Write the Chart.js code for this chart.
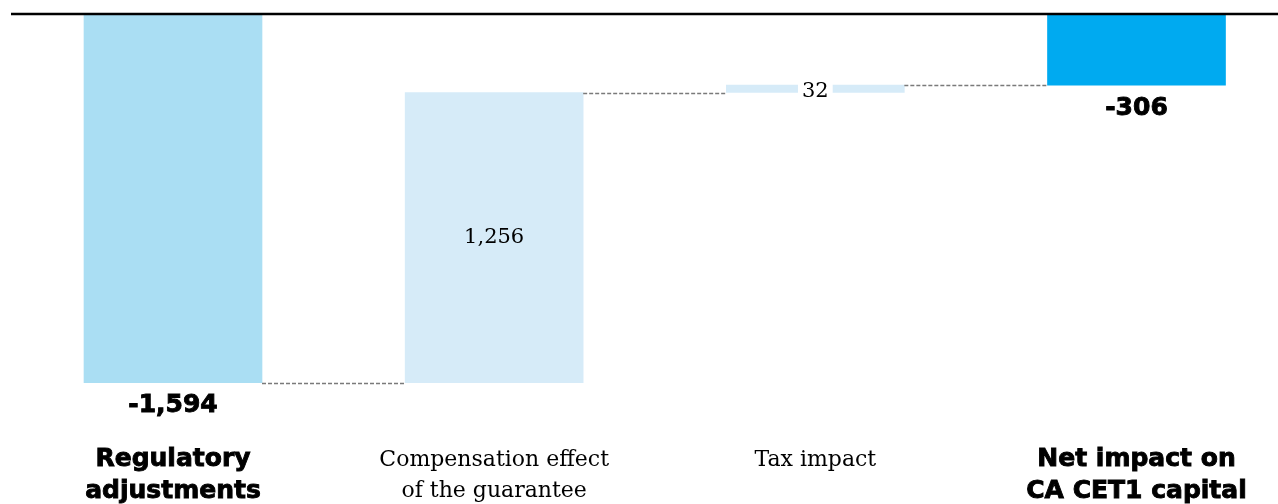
<!DOCTYPE html>
<html>
<head>
<meta charset="utf-8">
<script src="https://cdn.jsdelivr.net/npm/chart.js@4"></script>
<style>
  html, body { margin: 0; padding: 0; background: #fff; }
  canvas { display: block; }
</style>
</head>
<body>
<canvas id="grafico" width="1278" height="504"></canvas>
<script>
// Dados do gráfico
const categorias = [
  ['Regulatory', 'adjustments'],
  ['Compensation effect', 'of the guarantee'],
  ['Tax impact'],
  ['Net impact on', 'CA CET1 capital']
];
const variacoes = [-1594, 1256, 32];
const impactoLiquido = -306;
const rotulosValor = ['-1,594', '1,256', '32', '-306'];
const tipos = ['total', 'delta', 'delta', 'total'];
const cores = ['#aadef3', '#d6ebf8', '#d6ebf8', '#00aaf0'];

// Monta as barras flutuantes a partir do acumulado
const faixas = [];
let acumulado = 0;
variacoes.forEach((v, i) => {
  if (i === 0) {
    faixas.push([0, v]);
  } else {
    faixas.push([acumulado, acumulado + v]);
  }
  acumulado += v;
});
faixas.push([0, impactoLiquido]);

const fonteNegrito = 'bold 25px "DejaVu Sans"';
const fonteSerif = '21px "DejaVu Serif"';

// Texto em negrito mais "pesado" (contorno leve)
function textoPesado(ctx, txt, x, y) {
  ctx.fillText(txt, x, y);
  ctx.lineWidth = 0.9;
  ctx.strokeStyle = '#000';
  ctx.strokeText(txt, x, y);
}

// Plugin para linhas, conectores e rótulos
const extras = {
  id: 'extras',
  afterDatasetsDraw(chart) {
    const ctx = chart.ctx;
    const y = chart.scales.y;
    const x = chart.scales.x;
    const barras = chart.getDatasetMeta(0).data;

    ctx.save();

    // linha do zero
    ctx.strokeStyle = '#000';
    ctx.lineWidth = 2.5;
    ctx.beginPath();
    ctx.moveTo(11, y.getPixelForValue(0) - 0.5);
    ctx.lineTo(chart.width, y.getPixelForValue(0) - 0.5);
    ctx.stroke();

    // conectores tracejados
    ctx.strokeStyle = '#7a7a7a';
    ctx.lineWidth = 1.3;
    ctx.setLineDash([4, 2]);
    for (let i = 0; i < barras.length - 1; i++) {
      const nivel = faixas[i][1];
      const py = Math.round(y.getPixelForValue(nivel)) + 0.5;
      const b1 = barras[i];
      const b2 = barras[i + 1];
      ctx.beginPath();
      ctx.moveTo(b1.x + b1.width / 2, py);
      ctx.lineTo(b2.x - b2.width / 2, py);
      ctx.stroke();
    }
    ctx.setLineDash([]);

    // rótulos de valor
    ctx.textAlign = 'center';
    ctx.textBaseline = 'middle';
    faixas.forEach((f, i) => {
      const b = barras[i];
      if (tipos[i] === 'total') {
        ctx.font = fonteNegrito;
        ctx.fillStyle = '#000';
        textoPesado(ctx, rotulosValor[i], b.x, y.getPixelForValue(f[1]) + 23);
      } else {
        ctx.font = fonteSerif;
        const meio = (y.getPixelForValue(f[0]) + y.getPixelForValue(f[1])) / 2;
        const alturaBarra = Math.abs(y.getPixelForValue(f[0]) - y.getPixelForValue(f[1]));
        if (alturaBarra < 30) {
          const w = ctx.measureText(rotulosValor[i]).width + 8;
          ctx.fillStyle = '#fff';
          ctx.fillRect(b.x - w / 2, meio - 10, w, 20);
          ctx.fillStyle = '#000';
          ctx.fillText(rotulosValor[i], b.x, meio + 3);
        } else {
          ctx.fillStyle = '#000';
          ctx.fillText(rotulosValor[i], b.x, meio);
        }
      }
    });

    // rótulos das categorias
    categorias.forEach((linhas, i) => {
      const px = x.getPixelForValue(i);
      ctx.fillStyle = '#000';
      linhas.forEach((txt, j) => {
        if (tipos[i] === 'total') {
          ctx.font = fonteNegrito;
          textoPesado(ctx, txt, px, 459 + j * 32);
        } else {
          ctx.font = '22px "DejaVu Serif"';
          ctx.fillText(txt, px, 460 + j * 31);
        }
      });
    });

    ctx.restore();
  }
};

new Chart(document.getElementById('grafico'), {
  type: 'bar',
  data: {
    labels: categorias.map(c => c.join(' ')),
    datasets: [{
      data: faixas,
      backgroundColor: cores,
      borderWidth: 0,
      barThickness: 178,
      clip: false
    }]
  },
  options: {
    responsive: false,
    animation: false,
    devicePixelRatio: 1,
    layout: {
      padding: { left: 173, right: 141.5, top: 14.5, bottom: 27.7 }
    },
    scales: {
      x: { type: 'category', offset: false, display: false },
      y: { display: false, min: -2000, max: 0 }
    },
    plugins: {
      legend: { display: false },
      tooltip: { enabled: false }
    }
  },
  plugins: [extras]
});
</script>
</body>
</html>
